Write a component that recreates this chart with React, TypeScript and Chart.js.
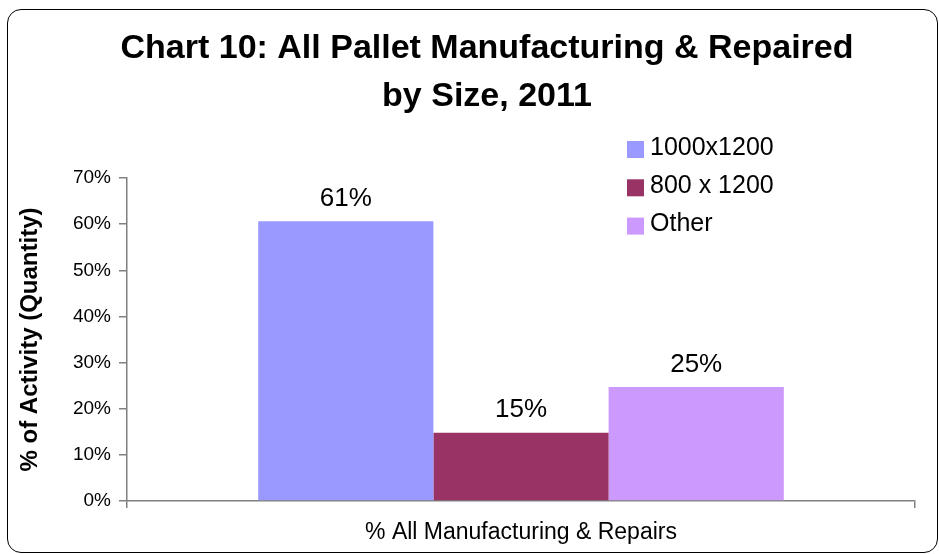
import React, { useEffect, useRef } from "react";
import { Chart, registerables } from "chart.js";

Chart.register(...registerables);

const TITLE_LINES = ["Chart 10: All Pallet Manufacturing & Repaired", "by Size, 2011"];
const CATEGORIES = ["% All Manufacturing & Repairs"];
const SERIES_NAMES = ["1000x1200", "800 x 1200", "Other"];
const SERIES_1000x1200 = [60.6];
const SERIES_800x1200 = [14.8];
const SERIES_OTHER = [24.7];
const SERIES_COLORS = ["#9999FF", "#993366", "#CC99FF"];
const Y_MIN = 0;
const Y_MAX = 70;
const Y_STEP = 10;
const Y_TITLE = "% of Activity (Quantity)";

const FONT = '"Liberation Sans", Arial, Helvetica, sans-serif';

const titlePlugin = {
  id: "customTitle",
  afterDraw(chart: any) {
    const ctx = chart.ctx;
    ctx.save();
    ctx.fillStyle = "#000";
    ctx.font = `bold 34px ${FONT}`;
    ctx.textAlign = "center";
    ctx.textBaseline = "alphabetic";
    TITLE_LINES.forEach((line, i) => {
      ctx.fillText(line, 487, 58 + i * 48);
    });
    ctx.restore();
  },
};

const legendPlugin = {
  id: "customLegend",
  afterDraw(chart: any) {
    const ctx = chart.ctx;
    ctx.save();
    ctx.font = `25px ${FONT}`;
    ctx.textAlign = "left";
    ctx.textBaseline = "middle";
    chart.data.datasets.forEach((ds: any, i: number) => {
      const cy = 149 + i * 38.3;
      ctx.fillStyle = ds.backgroundColor;
      ctx.fillRect(627, cy - 8, 17, 17);
      ctx.fillStyle = "#000";
      ctx.fillText(ds.label, 650, cy - 1);
    });
    ctx.restore();
  },
};

const dataLabelPlugin = {
  id: "dataLabels",
  afterDatasetsDraw(chart: any) {
    const ctx = chart.ctx;
    ctx.save();
    ctx.font = `26px ${FONT}`;
    ctx.fillStyle = "#000";
    ctx.textAlign = "center";
    ctx.textBaseline = "alphabetic";
    chart.data.datasets.forEach((ds: any, i: number) => {
      const meta = chart.getDatasetMeta(i);
      meta.data.forEach((bar: any, j: number) => {
        const v = ds.data[j];
        ctx.fillText(`${Math.round(v)}%`, bar.x, bar.y - 15.5);
      });
    });
    ctx.restore();
  },
};

export default function App() {
  const ref = useRef<HTMLCanvasElement | null>(null);

  useEffect(() => {
    if (!ref.current) return;
    Chart.defaults.font.family = FONT;
    const chart = new Chart(ref.current, {
      type: "bar",
      data: {
        labels: CATEGORIES,
        datasets: [
          { label: SERIES_NAMES[0], data: SERIES_1000x1200, backgroundColor: SERIES_COLORS[0] },
          { label: SERIES_NAMES[1], data: SERIES_800x1200, backgroundColor: SERIES_COLORS[1] },
          { label: SERIES_NAMES[2], data: SERIES_OTHER, backgroundColor: SERIES_COLORS[2] },
        ].map((d) => ({ ...d, borderWidth: 0, categoryPercentage: 0.667, barPercentage: 1 })),
      },
      options: {
        animation: false,
        responsive: false,
        devicePixelRatio: 1,
        layout: { padding: { left: 0, right: 24, top: 178, bottom: 0 } },
        plugins: {
          legend: { display: false },
          title: { display: false },
          tooltip: { enabled: false },
        },
        scales: {
          x: {
            offset: true,
            grid: {
              display: true,
              offset: true,
              drawOnChartArea: false,
              drawTicks: true,
              tickLength: 7,
              color: "#808080",
              lineWidth: 1.5,
            },
            border: { display: true, color: "#808080", width: 1.5 },
            ticks: { font: { size: 23 }, color: "#000", padding: 11 },
            afterFit: (s: any) => {
              s.height = 53;
            },
          },
          y: {
            min: Y_MIN,
            max: Y_MAX,
            ticks: {
              stepSize: Y_STEP,
              font: { size: 19 },
              color: "#000",
              padding: 8,
              callback: (v: any) => `${v}%`,
            },
            grid: {
              display: true,
              drawOnChartArea: false,
              drawTicks: true,
              tickLength: 8,
              color: "#808080",
              lineWidth: 1.5,
            },
            border: { display: true, color: "#808080", width: 1.5 },
            title: {
              display: true,
              text: Y_TITLE,
              font: { size: 24, weight: "bold" },
              color: "#000",
              padding: { top: 15.6, bottom: 0 },
            },
            afterFit: (s: any) => {
              s.width = 127;
            },
          },
        },
      },
      plugins: [titlePlugin, legendPlugin, dataLabelPlugin],
    } as any);
    return () => chart.destroy();
  }, []);

  return (
    <>
      <canvas
        ref={ref}
        width={939}
        height={554}
        style={{ position: "absolute", left: 0, top: 0, width: 939, height: 554 }}
      />
      <div
        style={{
          position: "absolute",
          left: 7,
          top: 9,
          width: 929,
          height: 542,
          border: "1px solid #000",
          borderRadius: 14,
          pointerEvents: "none",
          boxSizing: "content-box",
        }}
      />
    </>
  );
}
